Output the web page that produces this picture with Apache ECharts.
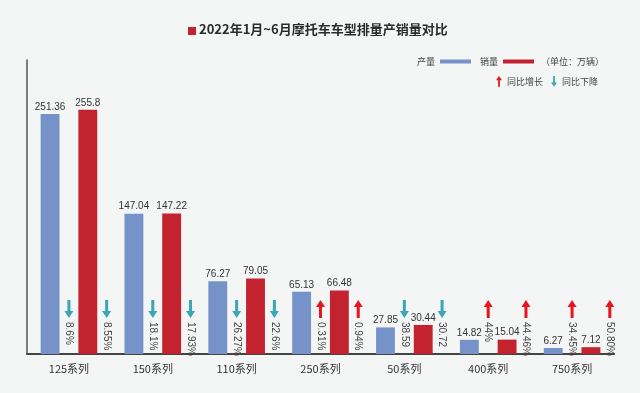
<!DOCTYPE html>
<html><head><meta charset="utf-8">
<script src="https://cdn.jsdelivr.net/npm/echarts@6/dist/echarts.min.js"></script>
<style>html,body{margin:0;padding:0;background:#f4f5f5;} #c{width:640px;height:393px;}</style>
</head><body><div id="c"></div>
<script>
const titleText = '2022年1月~6月摩托车车型排量产销量对比';
const unitText = '（单位：万辆）';
const categories = ['125系列','150系列','110系列','250系列','50系列','400系列','750系列'];
const production = [251.36, 147.04, 76.27, 65.13, 27.85, 14.82, 6.27];
const sales = [255.8, 147.22, 79.05, 66.48, 30.44, 15.04, 7.12];
const prodChangeLabels = ['8.6%','18.1%','26.27%','0.31%','38.59','44%','34.45%'];
const salesChangeLabels = ['8.55%','17.93%','22.6%','0.94%','30.72','44.46%','50.80%'];
const prodChangeDir = ['down','down','down','up','down','up','up'];
const salesChangeDir = ['down','down','down','up','down','up','up'];

const BLUE = '#7592c9', RED = '#c3222f', UP = '#e8141e', DOWN = '#3ba6b4';
const BAR_RATIO = 0.225;
const NARROW = '"Liberation Sans Narrow","Liberation Sans",Arial,sans-serif';
const CJK = '"Noto Sans CJK SC","Noto Sans",sans-serif';

function buildItems(dir) {
  const items = [];
  categories.forEach((c, i) => {
    if (prodChangeDir[i] === dir) items.push({cat: i, slot: 0, text: prodChangeLabels[i]});
    if (salesChangeDir[i] === dir) items.push({cat: i, slot: 1, text: salesChangeLabels[i]});
  });
  return items;
}
const upItems = buildItems('up');
const downItems = buildItems('down');

function arrowPoints(cx, top, up) {
  const hw = 4.5, sw = 1.5, head = 7, h = 18;
  if (up) return [[cx, top],[cx+hw, top+head],[cx+sw, top+head],[cx+sw, top+h],[cx-sw, top+h],[cx-sw, top+head],[cx-hw, top+head]];
  return [[cx-sw, top],[cx+sw, top],[cx+sw, top+h-head],[cx+hw, top+h-head],[cx, top+h],[cx-hw, top+h-head],[cx-sw, top+h-head]];
}

function makeRender(items, up, color) {
  return function (params, api) {
    const it = items[params.dataIndex];
    const base = api.coord([api.value(0), 0]);
    const band = api.size([1, 0])[0];
    const pitch = band * BAR_RATIO;
    const cx = base[0] + it.slot * 2 * pitch;
    const top = base[1] - 54;
    return {
      type: 'group',
      children: [
        {type: 'polygon', shape: {points: arrowPoints(cx, top, up)}, style: {fill: color}},
        {type: 'text', x: cx, y: top + 22, rotation: -Math.PI / 2,
          style: {text: it.text, x: 0, y: 0, textAlign: 'left', textVerticalAlign: 'middle',
            fill: '#444', fontSize: 10, fontFamily: NARROW}}
      ]
    };
  };
}

const chart = echarts.init(document.getElementById('c'), null, {renderer: 'canvas'});
chart.setOption({
  backgroundColor: '#f4f5f5',
  animation: false,
  title: {text: titleText, left: 199, top: 23, padding: 0,
    textStyle: {fontSize: 13, fontWeight: 'bold', color: '#2b2b2b', fontFamily: CJK}},
  graphic: [
    {type: 'rect', left: 188, top: 27, shape: {width: 8, height: 8}, style: {fill: RED}},
    {type: 'text', left: 541, top: 57, style: {text: unitText, fontSize: 9, fill: '#444', fontFamily: CJK}}
  ],
  legend: [
    {left: 417, top: 57, align: 'right', icon: 'rect', itemWidth: 31, itemHeight: 4, itemGap: 9,
      textStyle: {fontSize: 9, color: '#444', fontFamily: CJK}, padding: 0,
      data: ['产量', '销量']},
    {left: 496, top: 76, align: 'left', itemWidth: 6, itemHeight: 11, itemGap: 8, padding: 0,
      textStyle: {fontSize: 9, color: '#444', fontFamily: CJK},
      data: [
        {name: '同比增长', icon: 'path://M5,0 L10,7 L6.5,7 L6.5,18 L3.5,18 L3.5,7 L0,7 Z'},
        {name: '同比下降', icon: 'path://M3.5,0 L6.5,0 L6.5,11 L10,11 L5,18 L0,11 L3.5,11 Z'}
      ]}
  ],
  grid: {left: 27, right: 26, top: 60, bottom: 39},
  xAxis: {
    type: 'category', data: categories,
    axisLine: {lineStyle: {color: '#444', width: 2}},
    axisTick: {show: false},
    axisLabel: {fontSize: 11, color: '#333', margin: 9, fontFamily: CJK}
  },
  yAxis: {
    type: 'value', min: 0, max: 308,
    axisLine: {show: true, lineStyle: {color: '#555', width: 1.5}},
    axisTick: {show: false}, axisLabel: {show: false}, splitLine: {show: false}
  },
  series: [
    {name: '产量', type: 'bar', data: production, barWidth: (BAR_RATIO * 100) + '%', barGap: '100%',
      itemStyle: {color: BLUE},
      label: {show: true, position: 'top', distance: 2, fontSize: 10, color: '#333', fontFamily: NARROW}},
    {name: '销量', type: 'bar', data: sales, barWidth: (BAR_RATIO * 100) + '%', barGap: '100%',
      itemStyle: {color: RED},
      label: {show: true, position: 'top', distance: 2, fontSize: 10, color: '#333', fontFamily: NARROW}},
    {name: '同比增长', type: 'custom', itemStyle: {color: UP}, encode: {x: 0, y: 1},
      data: upItems.map(it => [it.cat, 0]), renderItem: makeRender(upItems, true, UP)},
    {name: '同比下降', type: 'custom', itemStyle: {color: DOWN}, encode: {x: 0, y: 1},
      data: downItems.map(it => [it.cat, 0]), renderItem: makeRender(downItems, false, DOWN)}
  ]
});
</script></body></html>
